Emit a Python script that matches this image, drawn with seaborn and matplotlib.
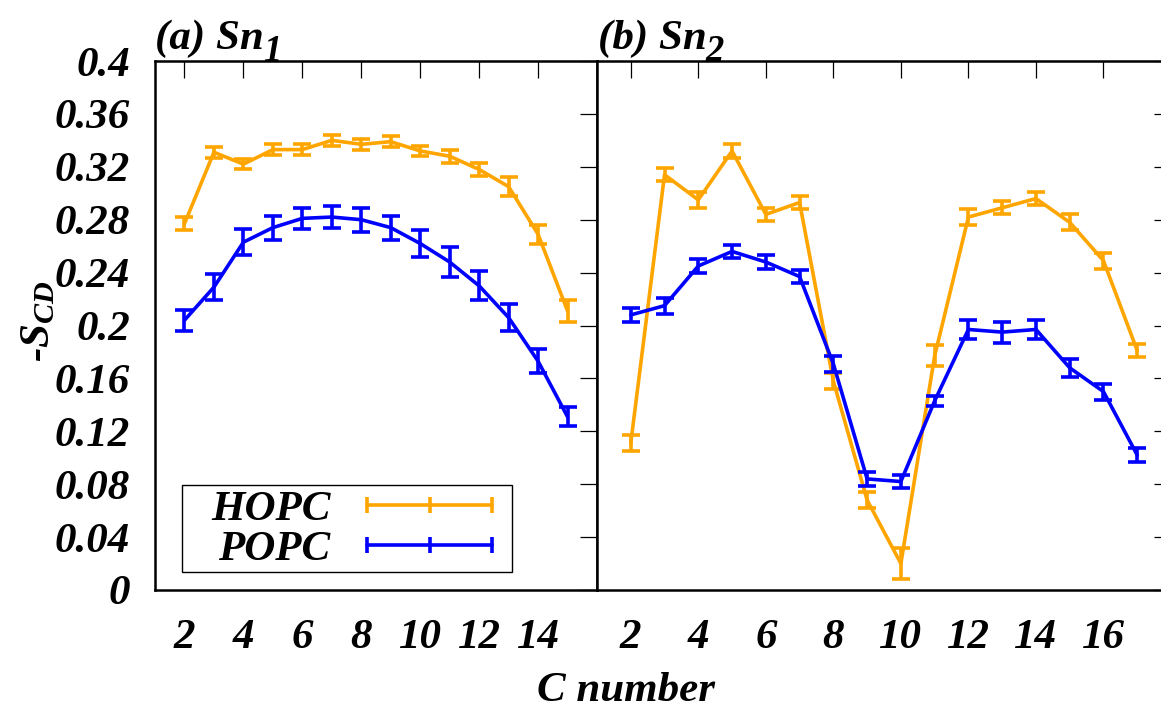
import matplotlib
matplotlib.use("Agg")
import matplotlib.pyplot as plt
from matplotlib.lines import Line2D
from matplotlib.patches import Rectangle
import seaborn as sns
import pandas as pd

# ---------------- data ----------------
c_sn1 = [2, 3, 4, 5, 6, 7, 8, 9, 10, 11, 12, 13, 14, 15]
hopc_sn1 = [0.277, 0.331, 0.322, 0.333, 0.333, 0.340, 0.337, 0.339, 0.332, 0.328, 0.318, 0.305, 0.269, 0.211]
hopc_sn1_err = [0.005, 0.004, 0.004, 0.004, 0.004, 0.004, 0.004, 0.004, 0.004, 0.005, 0.005, 0.007, 0.007, 0.008]
popc_sn1 = [0.204, 0.229, 0.263, 0.274, 0.281, 0.282, 0.280, 0.274, 0.262, 0.248, 0.230, 0.206, 0.173, 0.131]
popc_sn1_err = [0.008, 0.010, 0.010, 0.009, 0.008, 0.008, 0.009, 0.009, 0.010, 0.011, 0.011, 0.010, 0.009, 0.007]

c_sn2 = [2, 3, 4, 5, 6, 7, 8, 9, 10, 11, 12, 13, 14, 15, 16, 17]
hopc_sn2 = [0.111, 0.314, 0.295, 0.332, 0.284, 0.293, 0.158, 0.068, 0.020, 0.177, 0.282, 0.289, 0.296, 0.278, 0.249, 0.181]
hopc_sn2_err = [0.006, 0.005, 0.006, 0.005, 0.005, 0.005, 0.006, 0.006, 0.012, 0.008, 0.006, 0.005, 0.005, 0.006, 0.006, 0.005]
popc_sn2 = [0.208, 0.215, 0.245, 0.256, 0.248, 0.237, 0.171, 0.084, 0.082, 0.143, 0.197, 0.195, 0.197, 0.168, 0.150, 0.102]
popc_sn2_err = [0.005, 0.006, 0.005, 0.005, 0.005, 0.005, 0.006, 0.005, 0.005, 0.004, 0.007, 0.008, 0.007, 0.007, 0.006, 0.005]

series_names = ["HOPC", "POPC"]
series_colors = ["#FFA500", "#0000FF"]
y_ticks = [0, 0.04, 0.08, 0.12, 0.16, 0.2, 0.24, 0.28, 0.32, 0.36, 0.4]
x_ticks_sn1 = [2, 4, 6, 8, 10, 12, 14]
x_ticks_sn2 = [2, 4, 6, 8, 10, 12, 14, 16]
panel_titles = [("(a) Sn", "1"), ("(b) Sn", "2")]

# ---------------- style ----------------
sns.set_style("white")
plt.rcParams["font.family"] = ["Liberation Serif", "DejaVu Serif"]
plt.rcParams["font.weight"] = "bold"
plt.rcParams["font.style"] = "italic"
plt.rcParams["text.color"] = "black"
plt.rcParams["axes.labelcolor"] = "black"
plt.rcParams["xtick.color"] = "black"
plt.rcParams["ytick.color"] = "black"
plt.rcParams["mathtext.fontset"] = "custom"
plt.rcParams["mathtext.rm"] = "Liberation Serif:italic:bold"
plt.rcParams["mathtext.it"] = "Liberation Serif:italic:bold"
plt.rcParams["mathtext.bf"] = "Liberation Serif:italic:bold"

FS = 31
LW = 2.6
W, H = 1161, 717

fig = plt.figure(figsize=(W / 100, H / 100), dpi=100)
ax1 = fig.add_axes([155 / W, 1 - 590 / H, 442 / W, 529 / H])
ax2 = fig.add_axes([597 / W, 1 - 590 / H, 574 / W, 529 / H], sharey=ax1)

panels = [
    (ax1, c_sn1, [hopc_sn1, popc_sn1], [hopc_sn1_err, popc_sn1_err], x_ticks_sn1, (1, 16)),
    (ax2, c_sn2, [hopc_sn2, popc_sn2], [hopc_sn2_err, popc_sn2_err], x_ticks_sn2, (1, 18)),
]

for ax, cx, vals, errs, xt, xl in panels:
    for name, color, v, e in zip(series_names, series_colors, vals, errs):
        df = pd.DataFrame({"C": cx, "S": v, "err": e})
        sns.lineplot(data=df, x="C", y="S", ax=ax, color=color, lw=LW,
                     legend=False, errorbar=None)
        ax.errorbar(df["C"], df["S"], yerr=df["err"], fmt="none", ecolor=color,
                    elinewidth=LW, capsize=6.5, capthick=LW)
    ax.set_xlim(*xl)
    ax.set_ylim(0, 0.4)
    ax.set_xticks(xt)
    ax.set_xticklabels([str(t) for t in xt])
    ax.set_yticks(y_ticks)
    ax.set_xlabel("")
    ax.set_ylabel("")
    ax.tick_params(axis="both", which="major", direction="in", length=12, width=0.9,
                   top=True, right=True, labelsize=FS, colors="black")
    ax.tick_params(axis="y", pad=18)
    ax.tick_params(axis="x", pad=21)
    for sp in ax.spines.values():
        sp.set_visible(True)
        sp.set_linewidth(1.8)
        sp.set_color("black")

ax1.set_yticklabels([("%g" % t) for t in y_ticks])
ax2.tick_params(labelleft=False)

for lab in ax1.get_yticklabels() + ax1.get_xticklabels() + ax2.get_xticklabels():
    lab.set_fontweight("bold")
    lab.set_fontstyle("italic")
    lab.set_color("black")

# panel titles with large gnuplot-style subscripts
renderer = fig.canvas.get_renderer()
for (main, sub), x0 in zip(panel_titles, [155, 598]):
    t = fig.text(x0 / W, 1 - 49 / H, main, ha="left", va="baseline", fontsize=FS,
                 color="black")
    bb = t.get_window_extent(renderer=renderer)
    fig.text((bb.x1 - 1) / W, 1 - 61 / H, sub, ha="left", va="baseline",
             fontsize=FS * 0.85, color="black")

# axis labels
fig.text(0.034, 0.552, r"-$S_{CD}$", rotation=90, ha="center", va="center",
         fontsize=FS, color="black")
fig.text(0.539, 0.036, "C number", ha="center", va="center", fontsize=FS,
         color="black")

# legend (gnuplot style: label first, errorbar sample after)
handles = [Line2D([0], [0], color=c, lw=LW, marker="|", markersize=12, mew=LW)
           for c in series_colors]
leg = ax1.legend(handles, series_names, loc="center",
                 bbox_to_anchor=((358 - 155) / 442, (590 - 529) / 529),
                 markerfirst=False, numpoints=3,
                 handlelength=3.5, handletextpad=0.55, borderpad=0.1,
                 labelspacing=0.02, borderaxespad=0, fontsize=FS, frameon=False)
for t in leg.get_texts():
    t.set_fontweight("bold")
    t.set_fontstyle("italic")
    t.set_color("black")
ax1.add_patch(Rectangle(((182 - 155) / 442, (590 - 572) / 529),
                        (512 - 182) / 442, (572 - 485) / 529,
                        transform=ax1.transAxes, fill=False, edgecolor="black",
                        lw=1.0, zorder=5))

fig.savefig("out.png", dpi=100)
